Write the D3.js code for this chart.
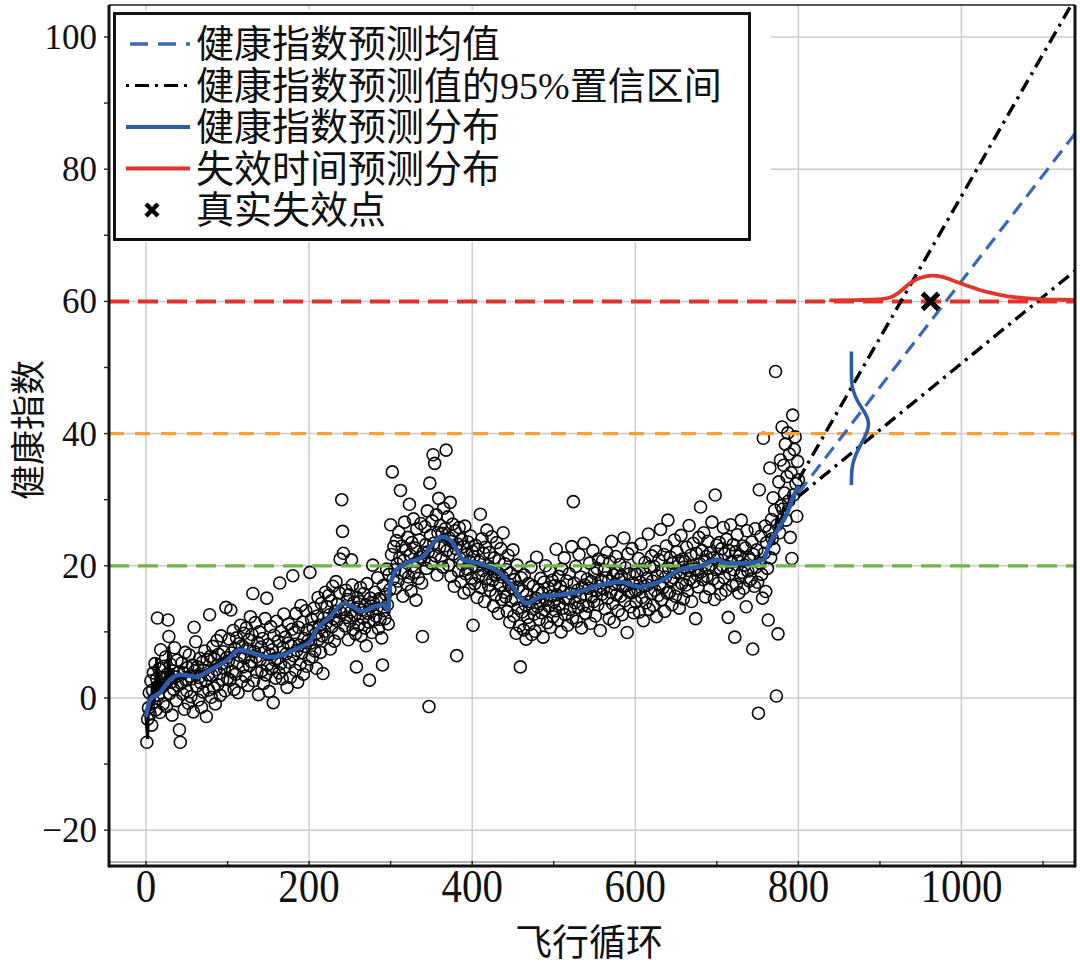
<!DOCTYPE html>
<html><head><meta charset="utf-8">
<script src="https://cdn.jsdelivr.net/npm/d3@7"></script>
<style>body{margin:0;background:#fff}</style>
</head><body>
<svg id="chart" width="1080" height="969"></svg>
<script>
// ---------- DATA ----------
const scatterStartCycle = 1;
const healthIndex = [
-6.7,-3.2,-1.5,0.8,-2.4,2.6,-4.1,1.2,3.8,-0.6,5.2,-1.8,2.9,12.1,0.4,4.4,-2.2,7.3,1.6,3.1,
-0.9,4.8,2.1,6.2,-1.3,3.6,11.8,9.3,0.7,5.1,2.4,-2.6,4.1,1.3,7.6,3.2,-0.4,5.7,1.9,3.9,
-4.8,-6.7,2.2,5.3,0.6,3.8,-1.7,6.9,2.7,1.1,4.6,-0.8,6.5,3.3,0.2,2.9,5.0,-2.1,10.7,4.1,
8.5,1.8,4.7,-0.3,3.1,6.0,2.3,-1.4,5.4,0.9,4.2,7.1,2.6,-2.8,5.8,3.5,1.2,12.6,6.3,0.1,
3.4,7.8,1.5,5.9,-0.9,4.3,8.7,2.0,6.6,3.7,0.4,9.4,5.2,2.8,7.0,4.5,1.1,13.7,6.1,3.0,
5.6,8.9,2.7,13.3,6.8,4.0,10.2,1.3,7.5,3.6,9.1,5.3,0.8,8.2,6.4,11.0,2.5,7.9,4.7,9.8,
6.1,3.3,10.6,7.4,1.9,8.8,4.9,12.3,5.5,9.6,15.8,2.6,7.0,11.4,6.2,3.9,8.4,0.5,10.0,5.8,
7.7,4.1,9.0,2.2,6.9,12.0,3.5,15.1,5.0,8.1,1.0,6.6,10.8,4.4,7.3,-0.7,9.5,5.7,3.0,11.6,
6.0,8.6,3.8,17.4,5.2,10.1,2.9,7.6,12.7,4.6,9.2,6.7,1.6,8.3,11.2,5.4,3.1,7.9,10.4,18.5,
6.4,9.9,4.2,12.8,7.2,2.4,10.7,8.0,5.1,14.0,6.8,11.5,3.6,9.0,7.8,13.2,4.8,10.3,8.7,5.9,
19.0,8.3,11.9,6.2,10.6,13.6,7.1,9.7,4.5,12.4,15.2,8.9,11.0,6.9,14.3,9.4,3.7,12.1,10.1,16.0,
11.3,13.8,9.2,15.5,12.6,7.4,14.7,10.8,16.9,12.0,8.6,13.1,17.6,11.7,14.2,9.8,15.9,21.0,12.9,30.0,
25.2,21.9,13.4,10.9,16.3,12.2,14.9,8.8,15.6,11.6,13.0,20.9,17.1,10.4,14.5,12.5,9.7,4.7,15.2,13.7,
11.1,14.6,16.7,9.4,13.3,12.1,15.8,10.6,14.0,7.9,17.3,12.8,11.5,2.7,15.1,13.9,9.9,20.1,14.4,11.8,
16.0,12.4,13.6,18.2,10.5,15.0,11.9,14.8,9.1,5.0,17.0,13.2,12.0,15.7,19.5,14.1,11.2,18.7,16.4,26.2,
21.7,34.2,18.0,22.9,19.4,16.6,23.8,20.3,17.7,25.1,21.2,31.4,18.9,23.0,15.4,20.8,26.6,19.1,22.4,17.2,
24.3,18.3,29.3,21.6,16.2,23.5,20.0,27.1,19.0,22.7,14.8,25.6,20.6,18.1,23.9,21.3,26.4,17.4,9.3,22.0,
20.9,25.9,23.2,19.6,28.3,22.1,-1.3,32.5,24.6,20.4,26.8,36.8,23.4,35.5,21.5,27.7,18.6,25.0,30.2,22.8,
26.1,21.0,24.9,19.8,28.7,23.0,25.6,37.5,22.3,27.4,20.1,24.2,29.6,18.4,23.7,26.3,21.8,16.9,25.3,22.6,
6.4,23.3,19.2,25.8,21.1,17.6,24.0,20.2,22.9,15.9,26.0,18.8,21.7,19.5,23.6,16.4,20.7,24.5,18.1,22.2,
11.0,21.4,17.3,23.1,19.9,15.2,22.5,18.5,20.6,27.8,16.7,24.1,19.3,21.9,14.6,22.8,18.0,25.4,20.0,17.1,
22.0,16.3,19.6,24.4,17.8,13.9,21.2,18.7,15.6,23.5,19.0,12.8,20.8,17.0,22.6,14.9,18.3,25.0,16.0,20.3,
15.3,19.4,13.1,21.6,17.2,11.5,18.9,14.7,16.6,22.4,12.4,17.9,15.0,9.8,20.1,13.6,16.8,10.9,4.7,18.2,
13.0,16.2,10.3,18.6,14.1,8.9,15.7,12.2,17.3,11.1,14.6,19.8,9.6,13.5,16.9,12.7,10.1,15.1,21.3,13.8,
16.4,11.9,14.3,18.1,12.9,15.9,9.2,17.5,13.3,20.0,14.8,11.4,16.7,13.9,19.2,10.7,15.4,17.8,12.3,14.5,
17.0,13.2,22.5,15.6,11.8,18.4,14.2,16.9,10.0,19.5,13.6,16.1,21.2,12.6,15.0,17.7,11.0,14.9,18.8,13.4,
15.8,22.9,12.1,29.7,17.4,14.4,19.9,11.6,16.3,13.7,21.7,15.2,18.3,10.6,16.8,14.0,23.4,17.1,12.8,15.5,
18.0,13.9,16.6,20.4,11.3,17.6,15.3,22.3,14.6,18.9,12.4,16.2,19.6,14.1,21.0,16.9,10.2,17.8,15.7,20.8,
16.5,19.3,13.5,18.2,22.0,15.1,17.7,12.0,20.6,16.0,23.7,14.3,18.6,11.5,17.2,21.4,15.6,19.0,13.2,17.9,
20.2,15.4,18.4,12.6,16.8,24.2,14.7,19.7,17.0,9.9,21.8,16.1,18.8,13.8,15.9,22.6,17.4,12.9,19.1,16.3,
14.5,18.7,16.4,21.1,13.0,17.5,23.3,15.2,19.4,11.7,16.9,20.5,14.4,18.1,17.1,24.8,13.4,19.8,15.8,21.5,
17.7,14.0,19.9,16.3,22.2,12.3,18.5,15.5,20.9,17.2,25.5,14.9,19.2,16.7,21.7,13.1,18.3,23.0,15.9,26.9,
19.6,16.0,21.3,17.8,14.1,20.4,18.2,23.9,15.4,19.0,22.1,16.6,20.7,13.6,18.9,24.6,17.3,21.0,15.0,19.8,
20.6,17.1,22.8,16.2,19.3,26.1,18.0,21.6,14.6,20.0,23.4,17.6,19.5,12.0,21.9,18.6,16.8,24.3,20.3,28.9,
19.1,22.3,17.9,25.0,20.8,15.3,21.4,18.4,23.7,19.7,16.5,22.0,20.2,26.6,18.0,21.2,14.9,30.7,19.4,23.1,
21.0,17.4,23.5,19.6,15.7,22.6,20.0,25.8,18.2,21.8,16.3,24.0,19.9,12.2,22.3,18.8,26.2,20.6,17.0,23.2,
19.4,9.2,22.1,17.2,24.7,20.7,15.9,21.5,18.5,26.9,19.0,23.0,16.6,20.1,22.7,13.8,25.3,19.2,21.3,17.7,
20.9,18.0,23.6,7.4,21.7,16.9,25.6,19.8,22.4,17.5,-2.3,31.5,20.4,24.5,18.7,15.1,39.3,21.9,26.0,16.1,
23.5,19.6,11.8,25.3,34.8,21.2,27.0,24.1,30.3,22.6,28.4,49.4,0.3,26.2,9.7,32.7,25.0,36.0,29.1,41.0,
28.6,35.2,31.0,38.4,26.9,33.5,40.1,29.8,36.9,24.3,34.1,21.1,42.8,30.7,37.6,39.5,32.4,27.5,35.8,33.0
];

// lightly filtered health index (black line), [cycle, value]
const filteredIndex = [[0,-3],[2,-6.2],[3,-1],[4,0.5],[6,-2],[8,2.5],[10,-0.8],[12,3],[13,6],[14,0.2],[16,3.5],[18,1.5],[20,2.5],[22,1.2],[24,4],[26,2.8],[28,7.8],[29,2.2],[32,4.5],[36,2.6],[40,3.8],[46,2.9],[52,3.9],[58,3.1],[64,4.3],[70,3.6],[78,4.6],[86,5.2],[94,5.6],[100,6.0],[108,7.1],[116,7.6],[124,6.9],[132,7.2],[140,6.4],[148,6.0],[156,6.7],[164,6.4],[172,7.0],[180,7.3],[188,8.0],[196,8.4],[204,9.2],[212,10.9],[220,11.8],[228,12.9],[236,13.6],[242,14.6],[248,13.9],[256,13.4],[264,12.8],[272,13.6],[280,14.2],[288,14.0],[294,13.6],[297,13.0],[300,17.5],[304,18.6],[310,20.0],[318,20.2],[326,21.0],[334,21.2],[342,22.0],[350,23.0],[356,24.0],[364,24.8],[370,23.6],[376,23.2],[382,22.0],[388,21.0],[396,20.6],[404,20.2],[414,19.8],[424,19.2],[434,18.6],[442,17.6],[450,16.4],[458,15.2],[466,14.0],[474,14.8],[482,15.0],[492,15.6],[502,15.3],[512,15.9],[522,15.7],[532,16.3],[542,16.6],[552,17.0],[562,17.2],[572,17.5],[582,17.3],[592,17.0],[602,16.6],[612,17.0],[622,17.3],[632,17.9],[642,18.4],[652,19.0],[662,19.6],[672,19.6],[682,20.1],[692,20.6],[700,21.0],[708,20.6],[718,20.3],[728,20.6],[738,20.2],[748,20.6],[756,21.0],[762,22.5],[766,24.5],[770,23.8],[774,27.5],[778,26.0],[782,28.8],[786,28.2],[790,30.6],[794,29.8],[797,31.6],[800,30.8]];

// smoothed health index (blue line), [cycle, value]
const smoothIndex = [[0,-2.8],[5,-0.3],[17,0.8],[29,2.7],[42,3.5],[62,3.2],[78,4.2],[99,5.7],[115,7.3],[131,6.8],[152,6.2],[168,6.5],[185,7.5],[201,8.5],[209,10.3],[226,12.3],[242,14.3],[254,13.8],[264,13.1],[279,13.8],[291,14.1],[297,13.3],[299,16.8],[307,19.4],[320,20.4],[340,21.4],[352,23.4],[363,24.4],[373,23.9],[381,22.4],[389,20.9],[406,20.4],[434,18.9],[450,16.8],[467,14.3],[483,15.3],[508,15.6],[532,16.1],[557,17.1],[581,17.6],[606,16.8],[630,17.6],[655,19.4],[679,19.9],[700,20.9],[712,20.4],[737,20.4],[757,20.9],[765,23.4],[777,25.9],[786,27.9],[794,30.5],[800,32]];

// prediction lines [cycle, value]
const predMean  = [[800,31],[1140,85.5]];
const predUpper = [[800,33],[1140,106]];
const predLower = [[800,30.5],[1140,64.7]];

// health-index predictive distribution at cycle ~865: [value, cycle]
const hiDistribution = [[52.4,865],[48,865],[47,866],[46,868.5],[45,872],[44,877],[43,882.5],[42,886],[41,886],[40,883.5],[39,879.5],[38,875],[37,871],[36,868],[35,866],[34,865.2],[32.2,865]];

// failure-time predictive distribution along threshold 60: [cycle, value]
const failureDistribution = [[838,60.15],[870,60.2],[900,60.25],[912,60.5],[920,61.0],[928,61.8],[936,62.7],[945,63.4],[955,63.8],[965,63.95],[975,63.8],[985,63.4],[995,62.9],[1008,62.3],[1020,61.8],[1035,61.3],[1050,60.9],[1065,60.65],[1080,60.45],[1100,60.3],[1120,60.25],[1140,60.2]];

const trueFailure = [962, 60];

const thresholds = [
  {value:60, color:"#e4312b"},
  {value:40, color:"#f5a13a"},
  {value:20, color:"#6cb745"}
];

const xTicks = [0,200,400,600,800,1000];
const xMinorTicks = [100,300,500,700,900,1100];
const yTicks = [-20,0,20,40,60,80,100];
const yMinorTicks = [-10,10,30,50,70,90];
const yTickLabels = ["\u221220","0","20","40","60","80","100"];

const legendLabels = ["健康指数预测均值","健康指数预测值的95%置信区间","健康指数预测分布","失效时间预测分布","真实失效点"];
const xTitle = "飞行循环";
const yTitle = "健康指数";

// ---------- CHART ----------
const svg = d3.select("#chart");
const L = 109, R = 1075, T = 5, B = 866;
const x = d3.scaleLinear().domain([-45.4, 1139.2]).range([L, R]);
const y = d3.scaleLinear().domain([-25.42, 104.84]).range([B, T]);

svg.append("defs").append("clipPath").attr("id","plotclip")
  .append("rect").attr("x",L).attr("y",T).attr("width",R-L).attr("height",B-T);

const plot = svg.append("g").attr("clip-path","url(#plotclip)");

// grid
plot.append("g").selectAll("line").data(xTicks).join("line")
  .attr("x1",d=>x(d)).attr("x2",d=>x(d)).attr("y1",T).attr("y2",B)
  .attr("stroke","#cccccc").attr("stroke-width",1.5);
plot.append("g").selectAll("line").data(yTicks).join("line")
  .attr("x1",L).attr("x2",R).attr("y1",d=>y(d)).attr("y2",d=>y(d))
  .attr("stroke","#cccccc").attr("stroke-width",1.5);

// scatter
plot.append("g").selectAll("circle").data(healthIndex).join("circle")
  .attr("cx",(d,i)=>x(scatterStartCycle+i)).attr("cy",d=>y(d)).attr("r",6)
  .attr("fill","none").attr("stroke","#0a0a0a").attr("stroke-width",1.6);

// thresholds
plot.append("g").selectAll("line").data(thresholds).join("line")
  .attr("x1",L).attr("x2",R).attr("y1",d=>y(d.value)).attr("y2",d=>y(d.value))
  .attr("stroke",d=>d.color)
  .attr("stroke-width",d=>d.value===60?4:3.2)
  .attr("stroke-dasharray",d=>d.value===40?"15,11":"20,9");

const line = d3.line().x(d=>x(d[0])).y(d=>y(d[1]));
plot.append("path").datum(filteredIndex).attr("d",line)
  .attr("fill","none").attr("stroke","#000").attr("stroke-width",3);
plot.append("path").datum(smoothIndex).attr("d",line.curve(d3.curveMonotoneX))
  .attr("fill","none").attr("stroke","#2b5cab").attr("stroke-width",4.5);
line.curve(d3.curveLinear);

// prediction lines
plot.append("path").datum(predUpper).attr("d",line)
  .attr("fill","none").attr("stroke","#000").attr("stroke-width",3.4).attr("stroke-dasharray","13,6,3,6");
plot.append("path").datum(predLower).attr("d",line)
  .attr("fill","none").attr("stroke","#000").attr("stroke-width",3.4).attr("stroke-dasharray","13,6,3,6");
plot.append("path").datum(predMean).attr("d",line)
  .attr("fill","none").attr("stroke","#3a68b8").attr("stroke-width",3.2).attr("stroke-dasharray","14,8");

// distributions
plot.append("path").datum(hiDistribution)
  .attr("d",d3.line().x(d=>x(d[1])).y(d=>y(d[0])).curve(d3.curveBasis))
  .attr("fill","none").attr("stroke","#2b5cab").attr("stroke-width",3.6);
plot.append("path").datum(failureDistribution)
  .attr("d",d3.line().x(d=>x(d[0])).y(d=>y(d[1])).curve(d3.curveBasis))
  .attr("fill","none").attr("stroke","#e2352c").attr("stroke-width",3.8);

// true failure marker
function xMark(g, cx, cy, s, w){
  g.append("path").attr("d",`M${cx-s},${cy-s}L${cx+s},${cy+s}M${cx-s},${cy+s}L${cx+s},${cy-s}`)
   .attr("stroke","#000").attr("stroke-width",w).attr("fill","none");
}
xMark(plot, x(trueFailure[0]), y(trueFailure[1]), 8, 5);

// frame
const frame = svg.append("g");
frame.append("line").attr("x1",L).attr("x2",R).attr("y1",B-4).attr("y2",B-4).attr("stroke","#9a9a9a").attr("stroke-width",1.5);
frame.append("line").attr("x1",L).attr("x2",R).attr("y1",T).attr("y2",T).attr("stroke","#555").attr("stroke-width",2);
frame.append("line").attr("x1",L).attr("x2",L).attr("y1",T).attr("y2",B+1.5).attr("stroke","#111").attr("stroke-width",3);
frame.append("line").attr("x1",R).attr("x2",R).attr("y1",T).attr("y2",B+1.5).attr("stroke","#111").attr("stroke-width",3);
frame.append("line").attr("x1",L).attr("x2",R).attr("y1",B).attr("y2",B).attr("stroke","#111").attr("stroke-width",3);

// ticks
frame.append("g").selectAll("line").data(yTicks.concat(yMinorTicks)).join("line")
  .attr("x1",L-5).attr("x2",L).attr("y1",d=>y(d)).attr("y2",d=>y(d)).attr("stroke","#222").attr("stroke-width",1.4);
frame.append("g").selectAll("line").data(xTicks.concat(xMinorTicks)).join("line")
  .attr("x1",d=>x(d)).attr("x2",d=>x(d)).attr("y1",B-5).attr("y2",B).attr("stroke","#222").attr("stroke-width",1.4);

// tick labels
svg.append("g").selectAll("text").data(yTicks).join("text")
  .attr("x",97).attr("y",d=>y(d)+12).attr("text-anchor","end")
  .attr("font-family","Liberation Serif").attr("font-size",35).attr("fill","#111")
  .text((d,i)=>yTickLabels[i]);
svg.append("g").selectAll("text").data(xTicks).join("text")
  .attr("transform",d=>`translate(${x(d)},902) scale(1,1.12)`).attr("text-anchor","middle")
  .attr("font-family","Liberation Serif").attr("font-size",41).attr("fill","#111")
  .text(d=>d);

// axis titles
svg.append("text").attr("x",589).attr("y",956).attr("text-anchor","middle")
  .attr("font-family","Noto Sans CJK SC").attr("font-size",37).attr("fill","#111").text(xTitle);
svg.append("text").attr("transform","translate(41,430) rotate(-90)").attr("text-anchor","middle")
  .attr("font-family","Noto Sans CJK SC").attr("font-size",35).attr("fill","#111").text(yTitle);

// legend
const lg = svg.append("g");
lg.append("rect").attr("x",111).attr("y",10).attr("width",660).attr("height",232).attr("fill","#fff");
lg.append("rect").attr("x",114.5).attr("y",13.5).attr("width",635).attr("height",226)
  .attr("fill","none").attr("stroke","#111").attr("stroke-width",3);
const rowY = i => 44 + 41.5*i;
const sx1 = 126, sx2 = 190;
lg.append("line").attr("x1",sx1).attr("x2",sx2).attr("y1",rowY(0)).attr("y2",rowY(0))
  .attr("stroke","#3a68b8").attr("stroke-width",3.5).attr("stroke-dasharray","18,10").attr("stroke-dashoffset",-4);
lg.append("line").attr("x1",sx1).attr("x2",sx2).attr("y1",rowY(1)).attr("y2",rowY(1))
  .attr("stroke","#000").attr("stroke-width",3.2).attr("stroke-dasharray","3,6,14,6");
lg.append("line").attr("x1",sx1).attr("x2",sx2).attr("y1",rowY(2)).attr("y2",rowY(2))
  .attr("stroke","#2b5cab").attr("stroke-width",4);
lg.append("line").attr("x1",sx1).attr("x2",sx2).attr("y1",rowY(3)).attr("y2",rowY(3))
  .attr("stroke","#e2352c").attr("stroke-width",4);
xMark(lg, 152, rowY(4), 6, 4.5);
lg.append("g").selectAll("text").data(legendLabels).join("text")
  .attr("x",196).attr("y",(d,i)=>rowY(i)+13)
  .attr("font-family","Liberation Serif, Noto Sans CJK SC").attr("font-size",38).attr("fill","#111")
  .text(d=>d);
</script>
</body></html>
